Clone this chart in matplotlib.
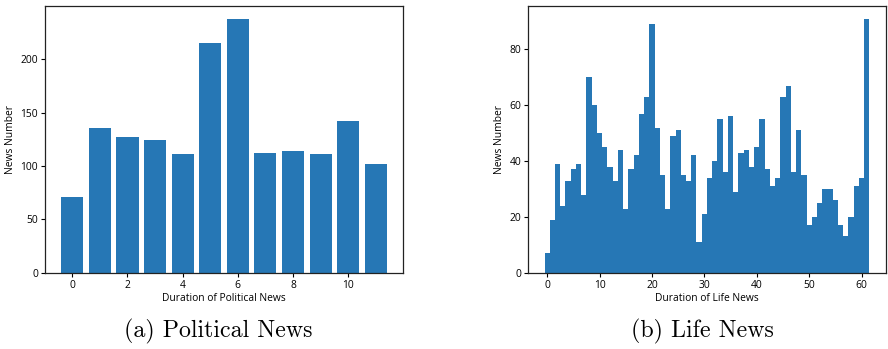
import matplotlib
matplotlib.use("Agg")
import matplotlib.pyplot as plt
import numpy as np

# Data
political_durations = list(range(12))
political_counts = [71, 136, 127, 124, 111, 215, 238, 112, 114, 111, 142, 102]

life_durations = list(range(62))
life_counts = [7, 19, 39, 24, 33, 37, 39, 28, 70, 60,
               50, 45, 38, 33, 44, 23, 37, 42, 57, 63,
               89, 52, 35, 23, 49, 51, 35, 33, 42, 11,
               21, 34, 40, 55, 36, 56, 29, 43, 44, 38,
               45, 55, 37, 31, 34, 63, 67, 36, 51, 35,
               17, 20, 25, 30, 30, 26, 17, 13, 20, 31,
               34, 91]

captions = ["(a) Political News", "(b) Life News"]
xlabels = ["Duration of Political News", "Duration of Life News"]
ylabel = "News Number"

plt.rcParams['font.family'] = ['Open Sans', 'DejaVu Sans']
plt.rcParams['font.size'] = 7.4

bar_color = '#2677b5'

fig = plt.figure(figsize=(8.88, 3.49), dpi=100)
ax1 = fig.add_axes([0.0507, 0.2186, 0.4032, 0.7642])
ax2 = fig.add_axes([0.5949, 0.2186, 0.4025, 0.7642])

ax1.bar(political_durations, political_counts, width=0.8, color=bar_color)
ax2.bar(life_durations, life_counts, width=1.0, color=bar_color, linewidth=0)

for ax, xl in zip([ax1, ax2], xlabels):
    ax.set_xlabel(xl, fontsize=7.4, labelpad=2)
    ax.set_ylabel(ylabel, fontsize=7.4, labelpad=3)
    ax.tick_params(labelsize=7.4, length=3, width=0.8, pad=2)
    for s in ax.spines.values():
        s.set_linewidth(0.9)
        s.set_color('#222222')

ax1.set_xticks([0, 2, 4, 6, 8, 10])
ax1.set_yticks([0, 50, 100, 150, 200])
ax2.set_xticks([0, 10, 20, 30, 40, 50, 60])
ax2.set_yticks([0, 20, 40, 60, 80])

fig.text(218 / 888, 1 - 331 / 349, captions[0], fontfamily='cmr10', fontsize=17.2,
         ha='center', va='center')
fig.text(702 / 888, 1 - 331 / 349, captions[1], fontfamily='cmr10', fontsize=17.2,
         ha='center', va='center')

fig.savefig("out.png", dpi=100)
